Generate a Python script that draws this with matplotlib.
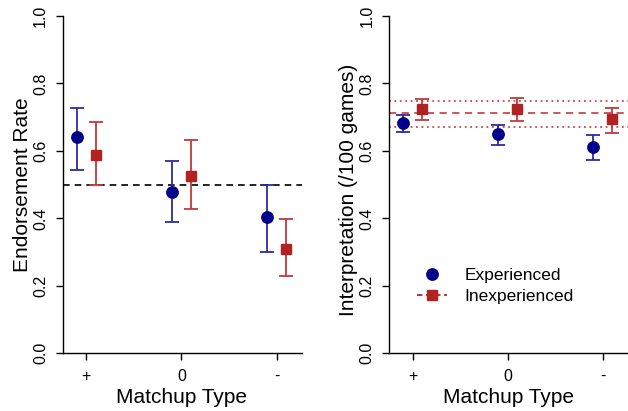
import matplotlib
matplotlib.use("Agg")
import matplotlib.pyplot as plt
from matplotlib.lines import Line2D
import numpy as np

plt.rcParams['font.family'] = ['Liberation Sans', 'DejaVu Sans']

categories = ['+', '0', '-']

# Left panel: endorsement rate
endorse_exp = [0.640, 0.479, 0.404]
endorse_exp_lo = [0.543, 0.389, 0.301]
endorse_exp_hi = [0.728, 0.569, 0.499]
endorse_inexp = [0.588, 0.527, 0.308]
endorse_inexp_lo = [0.499, 0.428, 0.229]
endorse_inexp_hi = [0.687, 0.631, 0.398]
endorse_ref = 0.5

# Right panel: interpretation
interp_exp = [0.684, 0.649, 0.611]
interp_exp_lo = [0.657, 0.619, 0.573]
interp_exp_hi = [0.706, 0.677, 0.646]
interp_inexp = [0.724, 0.724, 0.694]
interp_inexp_lo = [0.692, 0.690, 0.652]
interp_inexp_hi = [0.754, 0.757, 0.728]
interp_ref_mean = 0.712
interp_ref_lo = 0.671
interp_ref_hi = 0.748

yticks = [0.0, 0.2, 0.4, 0.6, 0.8, 1.0]

BLUE = '#00008B'
BLUE_E = '#2c2ca0'
RED = '#B22222'
RED_E = '#c23a3a'
RED_L = '#c84a4a'

W, H = 628, 411
fig = plt.figure(figsize=(W / 100, H / 100), dpi=100)

def px_axes(left, right, top, bottom):
    return fig.add_axes([left / W, 1 - bottom / H, (right - left) / W, (bottom - top) / H])

ax1 = px_axes(62.7, 302, 16, 353.3)
ax2 = px_axes(389.3, 628, 16, 353.3)

x = np.arange(1, len(categories) + 1)
off = 0.1

def panel(ax, exp, elo, ehi, inx, ilo, ihi):
    exp = np.array(exp); elo = np.array(elo); ehi = np.array(ehi)
    inx = np.array(inx); ilo = np.array(ilo); ihi = np.array(ihi)
    ax.errorbar(x - off, exp, yerr=[exp - elo, ehi - exp], fmt='none',
                ecolor=BLUE_E, elinewidth=1.3, capsize=5, capthick=1.3, zorder=3)
    ax.errorbar(x + off, inx, yerr=[inx - ilo, ihi - inx], fmt='none',
                ecolor=RED_E, elinewidth=1.3, capsize=5, capthick=1.3, zorder=3)
    ax.plot(x - off, exp, 'o', color=BLUE, markersize=8.2, zorder=4, linestyle='none')
    ax.plot(x + off, inx, 's', color=RED, markersize=7.6, zorder=4, linestyle='none')
    ax.set_xlim(0.755, 3.265)
    ax.set_ylim(0, 1)
    ax.set_xticks(x)
    ax.set_xticklabels(categories)
    ax.set_yticks(yticks)
    ax.set_yticklabels([f'{v:.1f}' for v in yticks], rotation=90, va='center')
    for s in ['top', 'right']:
        ax.spines[s].set_visible(False)
    for s in ['left', 'bottom']:
        ax.spines[s].set_linewidth(1.0)
    ax.tick_params(axis='both', length=5, width=1.0, labelsize=11.5)
    ax.tick_params(axis='x', pad=6)
    ax.tick_params(axis='y', pad=5.5)

panel(ax1, endorse_exp, endorse_exp_lo, endorse_exp_hi,
      endorse_inexp, endorse_inexp_lo, endorse_inexp_hi)
ax1.axhline(endorse_ref, color='black', linestyle=(0, (4, 3)), linewidth=1.2, zorder=2)

panel(ax2, interp_exp, interp_exp_lo, interp_exp_hi,
      interp_inexp, interp_inexp_lo, interp_inexp_hi)
ax2.axhline(interp_ref_mean, color=RED_L, linestyle=(0, (4, 3)), linewidth=1.3, zorder=2)
ax2.axhline(interp_ref_lo, color=RED_L, linestyle=(0, (1, 2)), linewidth=1.3, zorder=2)
ax2.axhline(interp_ref_hi, color=RED_L, linestyle=(0, (1, 2)), linewidth=1.3, zorder=2)

# axis labels
fig.text(23 / W, 1 - 185 / H, 'Endorsement Rate', rotation=90, ha='center', va='center', fontsize=15)
fig.text(348.5 / W, 1 - 190 / H, 'Interpretation (/100 games)', rotation=90, ha='center', va='center', fontsize=15)
fig.text(182 / W, 1 - 397 / H, 'Matchup Type', ha='center', va='center', fontsize=15)
fig.text(508.3 / W, 1 - 397 / H, 'Matchup Type', ha='center', va='center', fontsize=15)

handles = [
    Line2D([], [], color=BLUE, marker='o', linestyle='none', markersize=8.2),
    Line2D([], [], color=RED, marker='s', linestyle=(0, (3, 2)), markersize=7.6, linewidth=1.3),
]
ax2.legend(handles, ['Experienced', 'Inexperienced'], loc='center left',
           bbox_to_anchor=(417 / W, 1 - 286 / H), bbox_transform=fig.transFigure,
           frameon=False, fontsize=12.5, handlelength=1.75, handletextpad=1.0,
           labelspacing=0.38, borderpad=0, borderaxespad=0)

fig.savefig('out.png', dpi=100)
